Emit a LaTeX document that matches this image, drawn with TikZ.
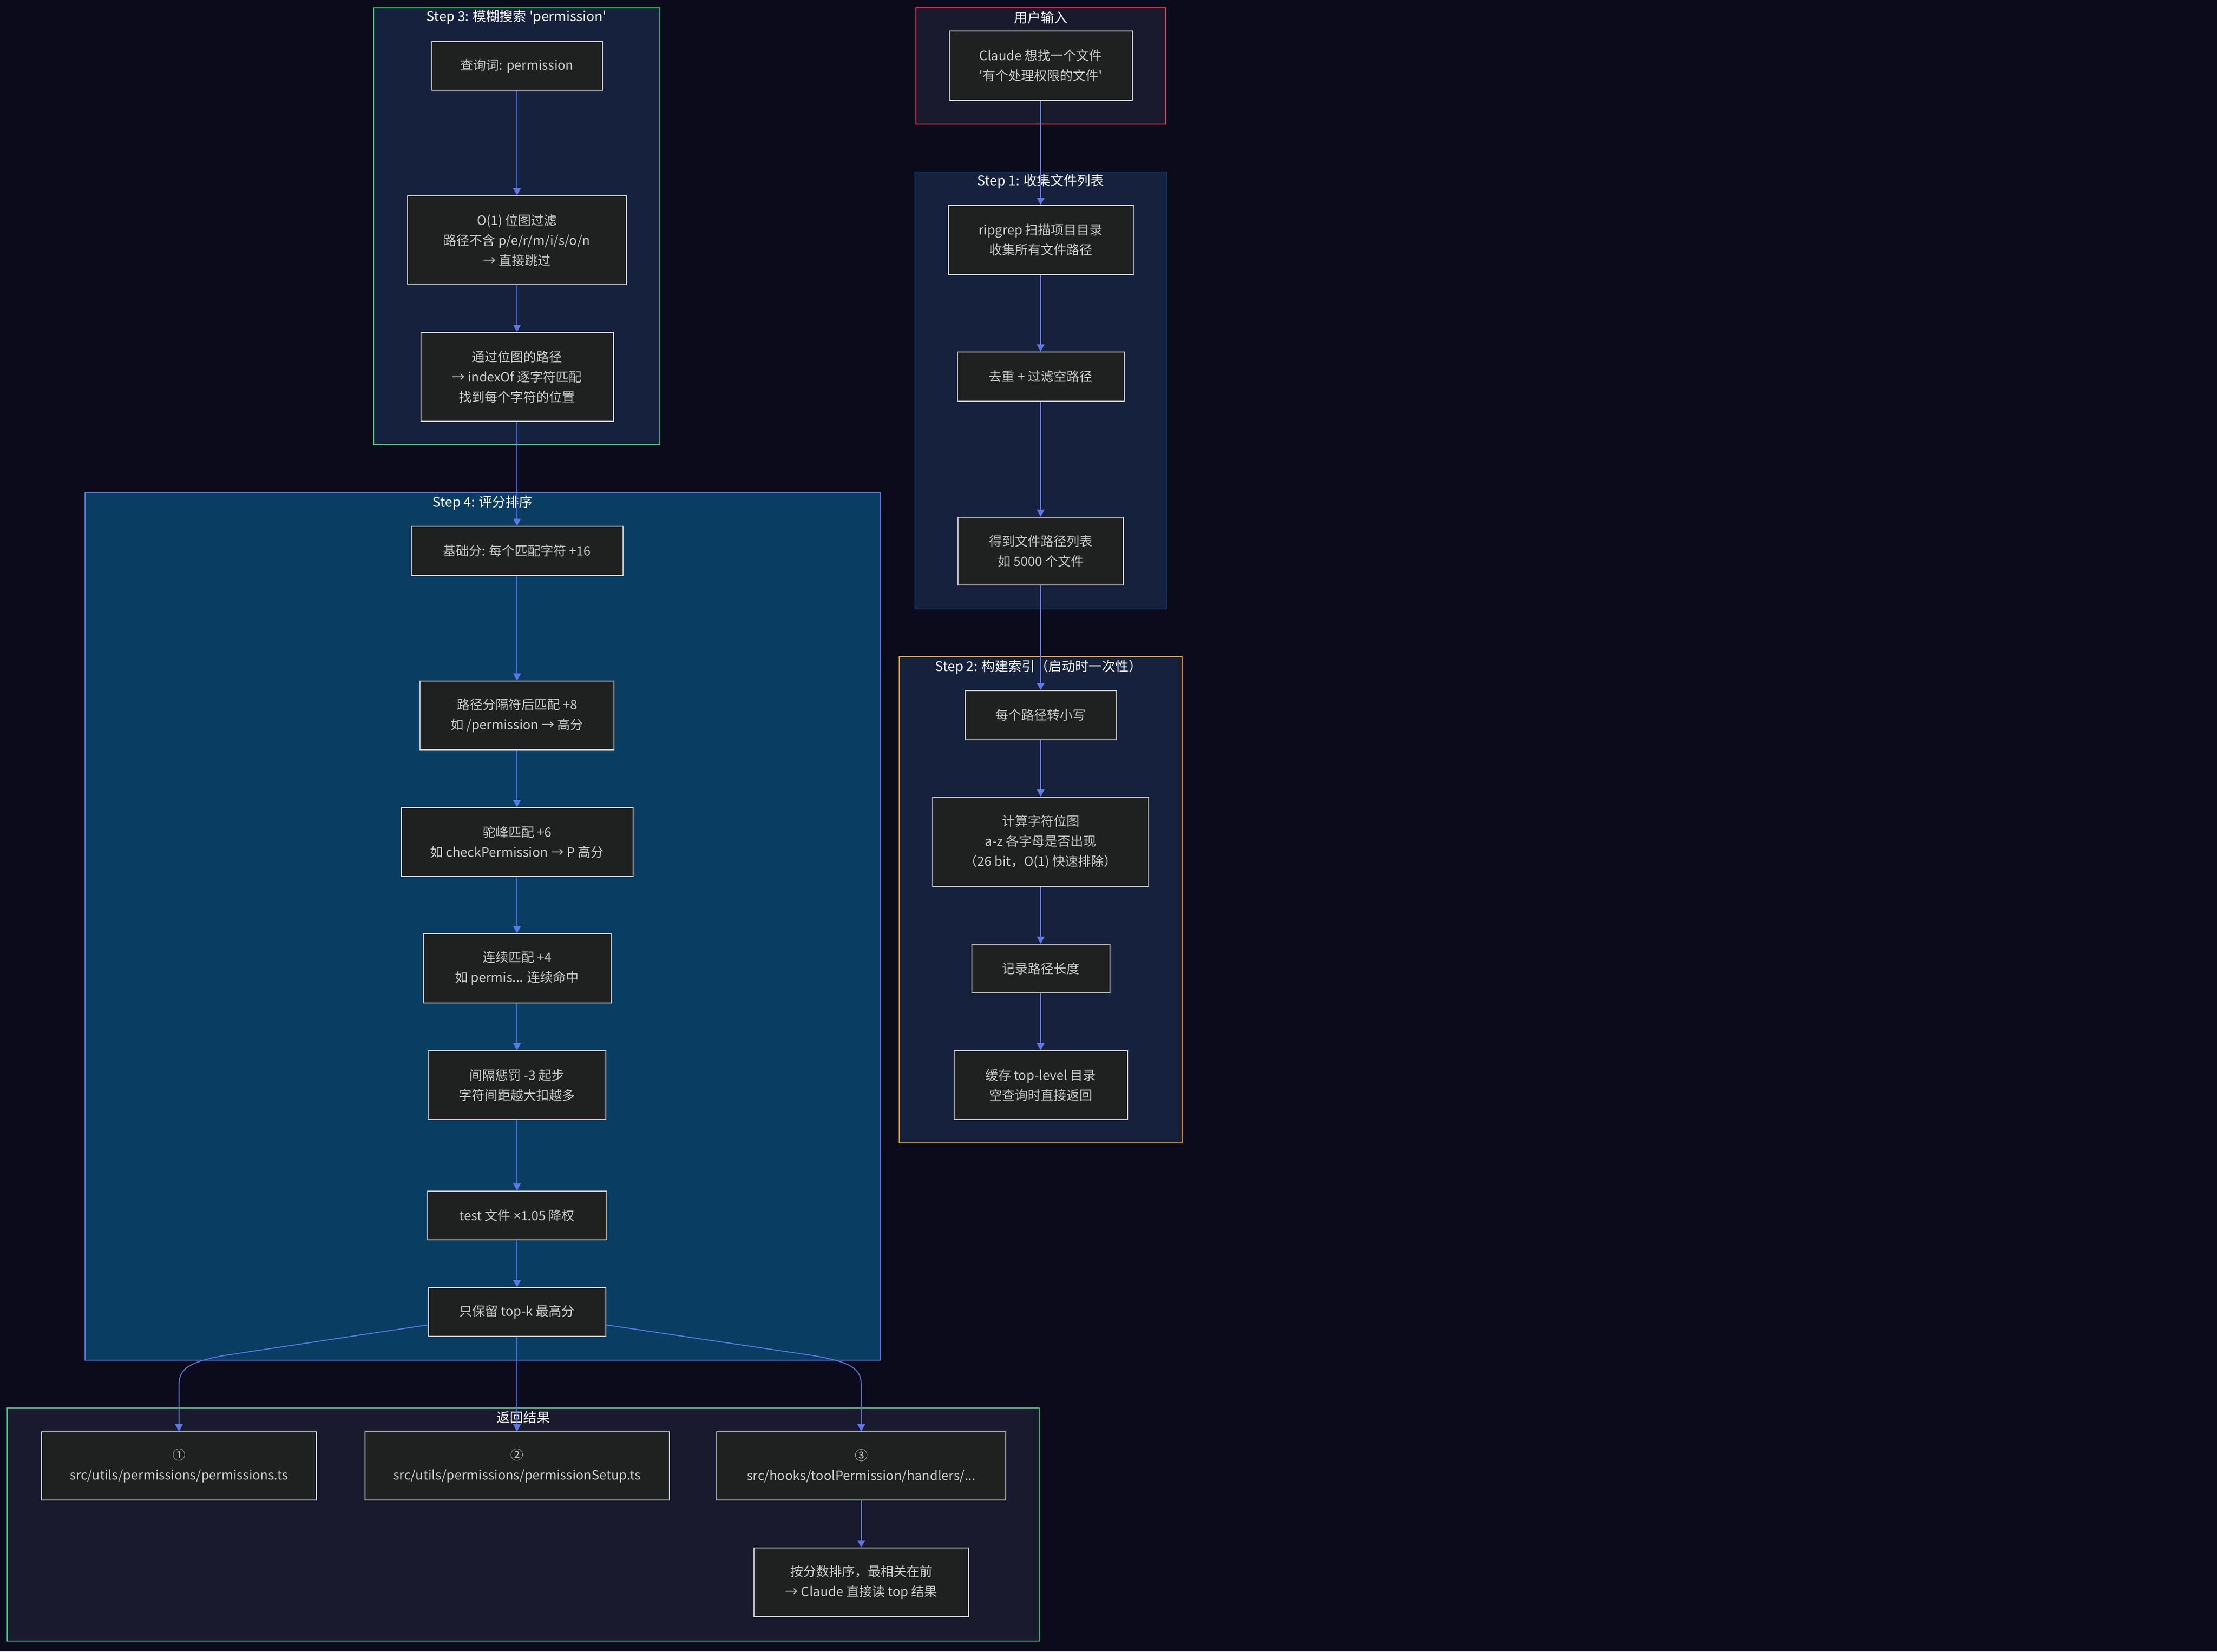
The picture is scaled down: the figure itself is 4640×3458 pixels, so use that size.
\documentclass[tikz,border=0pt]{standalone}
\usepackage{fontspec}
\newfontfamily\cjk{Noto Sans CJK SC}
\newfontfamily\latinsans{Noto Sans}
\usetikzlibrary{arrows.meta}
\definecolor{bgc}{HTML}{0B0B1B}
\definecolor{stepfill}{HTML}{16213E}
\definecolor{scorefill}{HTML}{0A3D62}
\definecolor{darkfill}{HTML}{1A1A2E}
\definecolor{nodefill}{HTML}{1F2020}
\definecolor{nodeline}{HTML}{CCCCCC}
\definecolor{nodetext}{HTML}{CCCCCC}
\definecolor{edgec}{HTML}{5B78E6}
\definecolor{greenc}{HTML}{2ECC71}
\definecolor{redc}{HTML}{E94560}
\definecolor{orangec}{HTML}{F39C12}
\definecolor{navyc}{HTML}{0F3460}
\definecolor{bluec}{HTML}{5B78E0}
\begin{document}
\begin{tikzpicture}[x=0.5pt,y=-0.5pt,
  box/.style={draw=nodeline, fill=nodefill, line width=1pt, text=nodetext, align=center,
    font=\cjk\fontsize{13.5pt}{21pt}\selectfont, inner sep=0pt},
  cluster/.style={line width=1pt},
  ctitle/.style={text=white, font=\cjk\fontsize{14pt}{17pt}\selectfont, inner sep=0pt},
  flow/.style={draw=edgec, line width=1pt, -{Triangle[width=8pt,length=7.5pt]}}]
\path[fill=bgc] (0,0) rectangle (4640,3458);
\useasboundingbox (0,0) rectangle (4640,3458);

% clusters
\draw[cluster, draw=greenc, fill=stepfill] (782,16) rectangle (1381,931);
\draw[cluster, draw=redc, fill=darkfill] (1917,16) rectangle (2440,260);
\draw[cluster, draw=navyc, fill=stepfill] (1915,360) rectangle (2442,1275);
\draw[cluster, draw=orangec, fill=stepfill] (1882,1375) rectangle (2474,2393);
\draw[cluster, draw=bluec, fill=scorefill] (178,1032) rectangle (1843,2848);
\draw[cluster, draw=greenc, fill=darkfill] (15,2948) rectangle (2175,3436);

% cluster titles
\node[ctitle] (t3) at (1081,36) {Step 3: 模糊搜索 'permission'};
\node[ctitle] (tu) at (2178,37) {用户输入};
\node[ctitle] (t1) at (2178,380) {Step 1: 收集文件列表};
\node[ctitle] (t2) at (2174,1397) {Step 2: 构建索引（启动时一次性）};
\node[ctitle] (t4) at (1010,1053) {Step 4: 评分排序};
\node[ctitle] (tr) at (1095,2968) {返回结果};

% Step 3 nodes
\node[box, minimum width=178.5pt, minimum height=51pt] (q) at (1082,138) {查询词: permission};
\node[box, minimum width=229pt, minimum height=93pt] (o1) at (1082,503) {O(1) 位图过滤\\路径不含 p/e/r/m/i/s/o/n\\→ 直接跳过};
\node[box, minimum width=201.5pt, minimum height=93pt] (pass) at (1082,789) {通过位图的路径\\→ indexOf 逐字符匹配\\找到每个字符的位置};

% user
\node[box, minimum width=191.5pt, minimum height=72.5pt] (claude) at (2178,137.5) {Claude 想找一个文件\\'有个处理权限的文件'};

% Step 1
\node[box, minimum width=193.5pt, minimum height=72.5pt] (rg) at (2178,502.5) {ripgrep 扫描项目目录\\收集所有文件路径};
\node[box, minimum width=174.5pt, minimum height=51.5pt] (dedup) at (2178,788.5) {去重 + 过滤空路径};
\node[box, minimum width=173pt, minimum height=71pt] (list) at (2178,1154) {得到文件路径列表\\如 5000 个文件};

% Step 2
\node[box, minimum width=158.5pt, minimum height=51.5pt] (lower) at (2178,1497.5) {每个路径转小写};
\node[box, minimum width=226pt, minimum height=93.5pt] (bitmap) at (2178,1762.5) {计算字符位图\\a-z 各字母是否出现\\（26 bit，O(1) 快速排除）};
\node[box, minimum width=144.5pt, minimum height=51pt] (len) at (2178,2028) {记录路径长度};
\node[box, minimum width=181.5pt, minimum height=72pt] (cache) at (2178,2272) {缓存 top-level 目录\\空查询时直接返回};

% Step 4
\node[box, minimum width=221.5pt, minimum height=51.5pt] (base) at (1082,1153.5) {基础分: 每个匹配字符 +16};
\node[box, minimum width=203pt, minimum height=72pt] (sep) at (1082,1498) {路径分隔符后匹配 +8\\如 /permission → 高分};
\node[box, minimum width=242.5pt, minimum height=72pt] (camel) at (1082,1763) {驼峰匹配 +6\\如 checkPermission → P 高分};
\node[box, minimum width=196.5pt, minimum height=72.5pt] (cont) at (1082,2027.5) {连续匹配 +4\\如 permis... 连续命中};
\node[box, minimum width=186pt, minimum height=72pt] (gap) at (1082,2272) {间隔惩罚 -3 起步\\字符间距越大扣越多};
\node[box, minimum width=187.5pt, minimum height=51pt] (test) at (1082,2545) {test 文件 {\latinsans ×}1.05 降权};
\node[box, minimum width=185.5pt, minimum height=51pt] (topk) at (1082,2747) {只保留 top-k 最高分};

% results
\node[box, minimum width=287.5pt, minimum height=71.5pt] (r1) at (374.5,3069.5) {①\\src/utils/permissions/permissions.ts};
\node[box, minimum width=318.5pt, minimum height=71.5pt] (r2) at (1082,3069.5) {②\\src/utils/permissions/permissionSetup.ts};
\node[box, minimum width=302.5pt, minimum height=71.5pt] (r3) at (1802.5,3069.5) {③\\src/hooks/toolPermission/handlers/...};
\node[box, minimum width=224.5pt, minimum height=72pt] (sort) at (1802.5,3313) {按分数排序，最相关在前\\→ Claude 直接读 top 结果};

% edges
\draw[flow] (q) -- (o1);
\draw[flow] (o1) -- (pass);
\draw[flow] (pass) -- (base);
\draw[flow] (claude) -- (rg);
\draw[flow] (rg) -- (dedup);
\draw[flow] (dedup) -- (list);
\draw[flow] (list) -- (lower);
\draw[flow] (lower) -- (bitmap);
\draw[flow] (bitmap) -- (len);
\draw[flow] (len) -- (cache);
\draw[flow] (base) -- (sep);
\draw[flow] (sep) -- (camel);
\draw[flow] (camel) -- (cont);
\draw[flow] (cont) -- (gap);
\draw[flow] (gap) -- (test);
\draw[flow] (test) -- (topk);
\draw[flow] ([yshift=-13.5pt]topk.west) -- (470,2838) .. controls (392,2852) and (374.5,2868) .. (374.5,2900) -- (r1.north);
\draw[flow] (topk) -- (r2);
\draw[flow] ([yshift=-13.5pt]topk.east) -- (1700,2838) .. controls (1785,2852) and (1802.5,2868) .. (1802.5,2900) -- (r3.north);
\draw[flow] (r3) -- (sort);
\end{tikzpicture}
\end{document}
